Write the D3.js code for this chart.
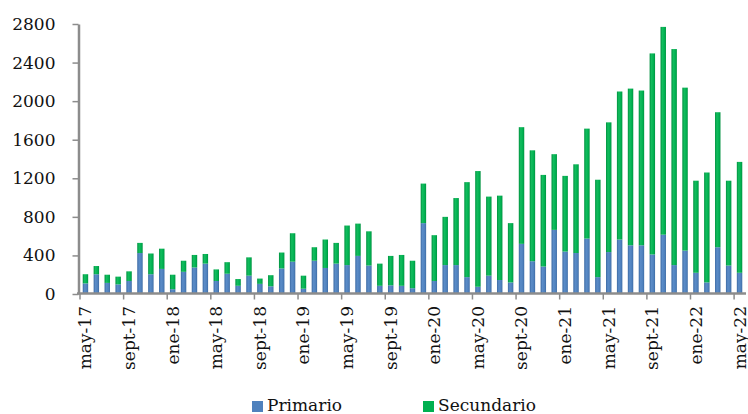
<!DOCTYPE html>
<html>
<head>
<meta charset="utf-8">
<script src="https://cdn.jsdelivr.net/npm/d3@7"></script>
<style>
  body { margin: 0; background: #fff; }
  text { font-family: "DejaVu Serif", serif; font-size: 17px; fill: #111; }
</style>
</head>
<body>
<div id="chart"></div>
<script>
// monthly categories, may-17 .. may-22
const months = [
  "may-17","jun-17","jul-17","ago-17","sept-17","oct-17","nov-17","dic-17",
  "ene-18","feb-18","mar-18","abr-18","may-18","jun-18","jul-18","ago-18","sept-18","oct-18","nov-18","dic-18",
  "ene-19","feb-19","mar-19","abr-19","may-19","jun-19","jul-19","ago-19","sept-19","oct-19","nov-19","dic-19",
  "ene-20","feb-20","mar-20","abr-20","may-20","jun-20","jul-20","ago-20","sept-20","oct-20","nov-20","dic-20",
  "ene-21","feb-21","mar-21","abr-21","may-21","jun-21","jul-21","ago-21","sept-21","oct-21","nov-21","dic-21",
  "ene-22","feb-22","mar-22","abr-22","may-22"
];

const primario = [
  110, 205, 115, 100, 135, 425, 205, 260, 50, 230,
  275, 315, 135, 210, 85, 190, 105, 80, 265, 335,
  55, 345, 270, 315, 300, 395, 295, 85, 90, 85,
  60, 735, 135, 300, 300, 175, 75, 190, 145, 120,
  520, 340, 285, 665, 440, 425, 575, 175, 435, 565,
  505, 505, 410, 615, 300, 450, 220, 120, 485, 295,
  220
];

const secundario = [
  95, 85, 85, 80, 100, 105, 215, 210, 150, 115,
  130, 100, 120, 120, 70, 190, 55, 115, 165, 295,
  135, 140, 295, 215, 410, 335, 355, 230, 305, 320,
  285, 410, 475, 500, 695, 985, 1200, 820, 875, 615,
  1210, 1150, 950, 785, 785, 920, 1140, 1010, 1345, 1535,
  1625, 1605, 2085, 2155, 2240, 1690, 955, 1140, 1400, 880,
  1150
];

const yTicks = [0, 400, 800, 1200, 1600, 2000, 2400, 2800];
const seriesNames = ["Primario", "Secundario"];
const colors = ["#4f81bd", "#00b050"];

const width = 748, height = 414;

const svg = d3.select("#chart").append("svg")
    .attr("width", width)
    .attr("height", height);

const x = d3.scaleBand()
    .domain(months)
    .range([80, 745])
    .paddingInner(0.5)
    .paddingOuter(0.25);

const y = d3.scaleLinear()
    .domain([0, 2800])
    .range([294, 24]);

// soft shading on bars, darker at the edges
const defs = svg.append("defs");
const shades = [["#3c6aa3", "#4f81bd", "#5b8cc8"], ["#00913f", "#00b050", "#12bd5e"]];
shades.forEach((s, i) => {
  const g = defs.append("linearGradient")
      .attr("id", "grad" + i)
      .attr("x1", "0%").attr("x2", "100%").attr("y1", "0%").attr("y2", "0%");
  g.append("stop").attr("offset", "0%").attr("stop-color", s[0]);
  g.append("stop").attr("offset", "35%").attr("stop-color", s[2]);
  g.append("stop").attr("offset", "75%").attr("stop-color", s[1]);
  g.append("stop").attr("offset", "100%").attr("stop-color", s[0]);
});

const rows = months.map((m, i) => ({ month: m, Primario: primario[i], Secundario: secundario[i] }));
const stacked = d3.stack().keys(seriesNames)(rows);

svg.append("g")
  .selectAll("g")
  .data(stacked)
  .enter()
  .append("g")
    .attr("fill", (d, i) => "url(#grad" + i + ")")
  .selectAll("rect")
  .data(d => d)
  .enter()
  .append("rect")
    .attr("x", d => x(d.data.month))
    .attr("y", d => y(d[1]))
    .attr("width", x.bandwidth())
    .attr("height", d => y(d[0]) - y(d[1]));

// y axis
const yAxis = svg.append("g")
    .attr("transform", "translate(78.5,0)")
    .call(d3.axisLeft(y).tickValues(yTicks).tickFormat(d3.format("d"))
      .tickSize(6).tickSizeOuter(0).tickPadding(17));
yAxis.select(".domain").attr("stroke", "#8c8c8c").attr("stroke-width", 2.5);
yAxis.selectAll(".tick line").attr("stroke", "#8c8c8c").attr("stroke-width", 1.5);
yAxis.selectAll(".tick text")
    .attr("fill", "#111")
    .style("font-family", "DejaVu Serif, serif")
    .style("font-size", "17px");

// x axis (category ticks between months, label every 4th month)
const baseY = 293.5;
const half = x.step() * x.paddingInner() / 2;
const xg = svg.append("g");
xg.append("line")
    .attr("x1", 77).attr("x2", 746)
    .attr("y1", baseY).attr("y2", baseY)
    .attr("stroke", "#8c8c8c").attr("stroke-width", 2.5);

const shown = months.filter((m, i) => i % 4 === 0);
xg.selectAll(".xt")
  .data(shown)
  .enter()
  .append("line")
    .attr("x1", d => x(d) - half).attr("x2", d => x(d) - half)
    .attr("y1", baseY).attr("y2", baseY + 6)
    .attr("stroke", "#8c8c8c").attr("stroke-width", 1.5);

xg.selectAll(".xl")
  .data(shown)
  .enter()
  .append("text")
    .attr("text-anchor", "end")
    .attr("dy", "0.35em")
    .attr("transform", d => `translate(${x(d) + x.bandwidth() / 2},306) rotate(-90)`)
    .text(d => d);

// legend
const legend = svg.append("g");
const legendX = [252, 423];
seriesNames.forEach((name, i) => {
  legend.append("rect")
      .attr("x", legendX[i]).attr("y", 401)
      .attr("width", 11).attr("height", 11)
      .attr("fill", colors[i]);
  legend.append("text")
      .attr("x", legendX[i] + 15).attr("y", 411)
      .text(name);
});
</script>
</body>
</html>
